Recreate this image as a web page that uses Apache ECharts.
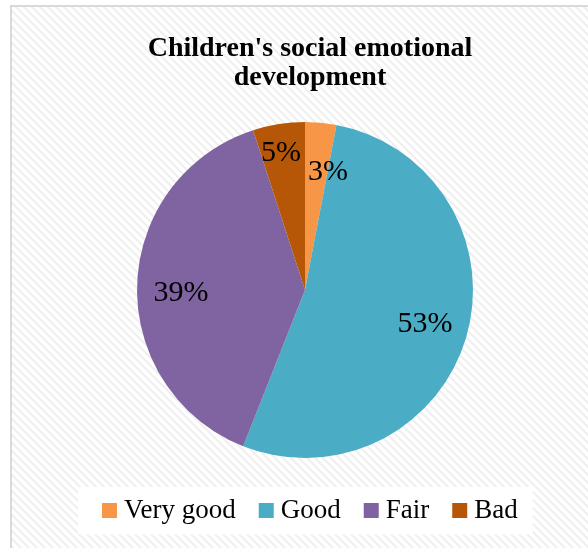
<!DOCTYPE html>
<html>
<head>
<meta charset="utf-8">
<script src="https://cdn.jsdelivr.net/npm/echarts@6/dist/echarts.min.js"></script>
<style>
html,body{margin:0;padding:0;background:#fff;}
#chart{width:588px;height:548px;}
</style>
</head>
<body>
<div id="chart"></div>
<script>
const titleText = "Children's social emotional\ndevelopment";
const categories = ["Very good", "Good", "Fair", "Bad"];
const values = [3, 53, 39, 5];
const colors = ["#F79646", "#4BACC6", "#8064A2", "#B65708"];

// hatched background tile
const tile = document.createElement('canvas');
tile.width = 8; tile.height = 8;
const tctx = tile.getContext('2d');
const img = tctx.createImageData(8, 8);
for (let y = 0; y < 8; y++) {
  for (let x = 0; x < 8; x++) {
    const i = (y * 8 + x) * 4;
    const d = ((x - y) % 8 + 8) % 8;
    const v = d < 3 ? 240 : 255;
    img.data[i] = v; img.data[i+1] = v; img.data[i+2] = v; img.data[i+3] = 255;
  }
}
tctx.putImageData(img, 0, 0);

const data = categories.map((c, i) => ({ name: c, value: values[i], itemStyle: { color: colors[i] } }));
const serif = "'Liberation Serif', 'DejaVu Serif', serif";

const chart = echarts.init(document.getElementById('chart'));
chart.setOption({
  backgroundColor: '#ffffff',
  animation: false,
  graphic: [{
    type: 'rect',
    z: -10,
    silent: true,
    shape: { x: 11, y: 6, width: 620, height: 600 },
    style: { fill: { image: tile, repeat: 'repeat' }, stroke: '#d9d9d9', lineWidth: 2 }
  }],
  title: {
    text: titleText,
    left: 305,
    textAlign: 'center',
    top: 29,
    textStyle: { fontFamily: serif, fontWeight: 'bold', fontSize: 28, lineHeight: 29, color: '#000' }
  },
  legend: {
    data: categories,
    left: 78,
    top: 487,
    padding: [10, 15, 10, 24],
    backgroundColor: '#ffffff',
    itemWidth: 15,
    itemHeight: 15,
    itemGap: 23,
    icon: 'rect',
    textStyle: { fontFamily: serif, fontSize: 27, color: '#000', padding: [0, 0, 0, 2] }
  },
  series: [{
    type: 'pie',
    center: [305, 290],
    radius: [0, 168],
    startAngle: 90,
    clockwise: true,
    silent: true,
    label: { show: false },
    labelLine: { show: false },
    data: data
  }, {
    type: 'pie',
    center: [305, 290],
    radius: [0, 250],
    startAngle: 90,
    clockwise: true,
    silent: true,
    avoidLabelOverlap: false,
    legendHoverLink: false,
    itemStyle: { color: 'rgba(0,0,0,0)' },
    label: {
      show: true,
      position: 'inside',
      formatter: '{d}%',
      fontFamily: serif,
      fontSize: 30,
      color: '#000'
    },
    labelLine: { show: false },
    labelLayout: function (p) {
      if (p.dataIndex === 0) return { dx: 11, dy: 10 };
      if (p.dataIndex === 1) return { dx: -3, dy: -2 };
      if (p.dataIndex === 2) return { dx: 4, dy: 7 };
      return { dx: -4, dy: -10 };
    },
    data: categories.map((c, i) => ({ name: c, value: values[i], itemStyle: { color: 'rgba(0,0,0,0)' } }))
  }]
});
</script>
</body>
</html>
